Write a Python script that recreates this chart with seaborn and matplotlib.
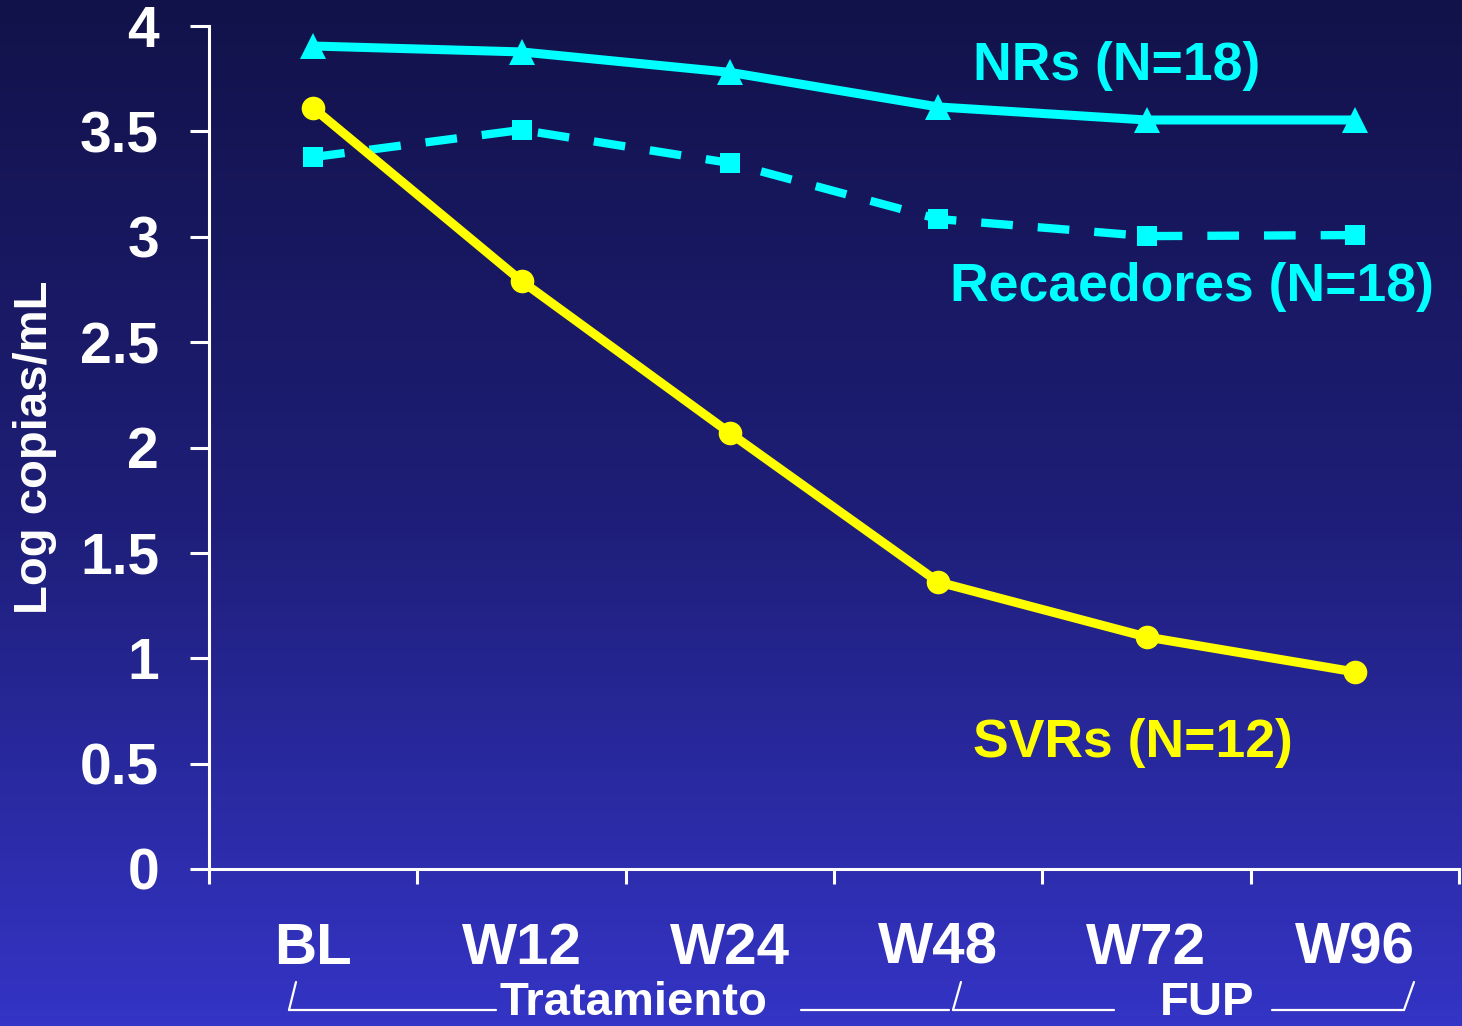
import numpy as np
import matplotlib
matplotlib.use("Agg")
import matplotlib.pyplot as plt
from matplotlib.colors import LinearSegmentedColormap
from matplotlib.lines import Line2D
import seaborn as sns

# ---- data ----
categories = ["BL", "W12", "W24", "W48", "W72", "W96"]
nrs = [3.905, 3.877, 3.78, 3.616, 3.554, 3.554]
recaedores = [3.378, 3.507, 3.35, 3.084, 3.003, 3.008]
svrs = [3.611, 2.79, 2.069, 1.362, 1.101, 0.935]
y_ticks = [0, 0.5, 1, 1.5, 2, 2.5, 3, 3.5, 4]
y_tick_labels = ["0", "0.5", "1", "1.5", "2", "2.5", "3", "3.5", "4"]

sns.set_theme(style="white")
plt.rcParams["font.family"] = ["Liberation Sans", "DejaVu Sans"]
plt.rcParams["font.weight"] = "bold"

W, H = 1462, 1026
fig = plt.figure(figsize=(W / 100, H / 100), dpi=100)

def fx(px):
    return px / W

def fy(py):
    return 1 - py / H

# gradient background
bg = fig.add_axes([0, 0, 1, 1], zorder=0)
bg.axis("off")
grad = np.linspace(0, 1, 256).reshape(-1, 1)
cmap = LinearSegmentedColormap.from_list("bg", ["#12124a", "#1e1e78", "#3434c6"])
bg.imshow(grad, aspect="auto", cmap=cmap, extent=[0, 1, 0, 1], origin="upper")

ax = fig.add_axes([fx(209), fy(869), fx(1459) - fx(209), fy(26) - fy(869)], zorder=1)
ax.patch.set_alpha(0)

CYAN = "#00ffff"
YELLOW = "#ffff00"

sns.lineplot(x=categories, y=nrs, ax=ax, color=CYAN, lw=6.5, marker="^",
             markersize=19, markeredgewidth=0, sort=False)
sns.lineplot(x=categories, y=recaedores, ax=ax, color=CYAN, lw=6.0, marker="s",
             markersize=14, markeredgewidth=0, sort=False)
ax.lines[-1].set_dashes([3.8, 3.0])
ax.lines[-1].set_dash_capstyle("butt")
sns.lineplot(x=categories, y=svrs, ax=ax, color=YELLOW, lw=6.5, marker="o",
             markersize=17, markeredgewidth=0, sort=False)

ax.set_xlim(-0.5, 5.5)
ax.set_ylim(0, 4)
ax.set_yticks(y_ticks)
ax.set_yticklabels(y_tick_labels)
ax.set_xticks(np.arange(-0.5, 6.0, 1.0))
ax.set_xticklabels([])
ax.set_xticks(range(len(categories)), minor=True)
ax.set_xticklabels(categories, minor=True)
ax.grid(False)

for s in ["top", "right"]:
    ax.spines[s].set_visible(False)
for s in ["left", "bottom"]:
    ax.spines[s].set_color("white")
    ax.spines[s].set_linewidth(2.2)

ax.tick_params(axis="y", which="major", direction="out", length=14, width=2.2,
               color="white", labelcolor="white", labelsize=41, pad=22, left=True)
ax.tick_params(axis="x", which="major", direction="out", length=11, width=2.2,
               color="white", bottom=True)
ax.tick_params(axis="x", which="minor", length=0, labelcolor="white",
               labelsize=42, pad=38)
for lab in ax.get_yticklabels() + ax.get_xticklabels(minor=True):
    lab.set_fontweight("bold")

ax.set_xlabel("")
ax.set_ylabel("Log copias/mL", color="white", fontsize=34, fontweight="bold")
ax.yaxis.label.set_va("center")
ax.yaxis.set_label_coords((35 - 209) / 1250, 0.5)

# series annotations
fig.text(fx(973), fy(66), "NRs (N=18)", color=CYAN, fontsize=38.5, fontweight="bold",
         ha="left", va="center")
fig.text(fx(950), fy(287), "Recaedores (N=18)", color=CYAN, fontsize=38.5,
         fontweight="bold", ha="left", va="center")
fig.text(fx(973), fy(743), "SVRs (N=12)", color=YELLOW, fontsize=38.5,
         fontweight="bold", ha="left", va="center")

# bottom brackets
fig.text(fx(499), fy(1025), "Tratamiento", color="white", fontsize=34,
         fontweight="bold", ha="left", va="bottom")
fig.text(fx(1160), fy(1025), "FUP", color="white", fontsize=34,
         fontweight="bold", ha="left", va="bottom")
segs = [
    ([289, 296], [1010, 982]),
    ([289, 496], [1010, 1010]),
    ([801, 949], [1010, 1010]),
    ([953, 961], [1010, 982]),
    ([953, 1114], [1010, 1010]),
    ([1272, 1404], [1010, 1010]),
    ([1404, 1414], [1010, 982]),
]
for xs, ys in segs:
    fig.add_artist(Line2D([fx(v) for v in xs], [fy(v) for v in ys],
                          transform=fig.transFigure, color="white", lw=1.6))

fig.savefig("out.png", dpi=100)
